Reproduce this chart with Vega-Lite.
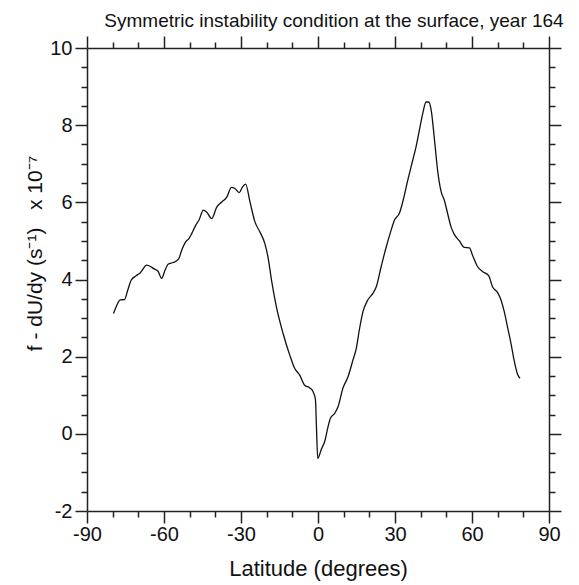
{
  "$schema": "https://vega.github.io/schema/vega-lite/v6.json",
  "width": 462,
  "height": 463,
  "autosize": "none",
  "padding": {"left": 87, "top": 48, "right": 30, "bottom": 74},
  "title": {
    "text": "Symmetric instability condition at the surface, year 164",
    "font": "Liberation Sans",
    "fontSize": 19,
    "fontWeight": "normal",
    "color": "#111",
    "anchor": "middle",
    "dx": 16,
    "offset": 4
  },
  "data": {
    "values": [
      {"lat": -79.7, "v": 3.12},
      {"lat": -78.7, "v": 3.28},
      {"lat": -77.1, "v": 3.47},
      {"lat": -75.4, "v": 3.48},
      {"lat": -74.1, "v": 3.73},
      {"lat": -72.8, "v": 3.98},
      {"lat": -71.0, "v": 4.09},
      {"lat": -69.3, "v": 4.17},
      {"lat": -66.7, "v": 4.37},
      {"lat": -63.7, "v": 4.27},
      {"lat": -62.4, "v": 4.22},
      {"lat": -60.9, "v": 4.03},
      {"lat": -59.6, "v": 4.24},
      {"lat": -58.3, "v": 4.40},
      {"lat": -56.4, "v": 4.44},
      {"lat": -54.4, "v": 4.52},
      {"lat": -53.1, "v": 4.76},
      {"lat": -51.5, "v": 4.98},
      {"lat": -50.3, "v": 5.06},
      {"lat": -49.2, "v": 5.19},
      {"lat": -47.6, "v": 5.41},
      {"lat": -46.3, "v": 5.55},
      {"lat": -44.7, "v": 5.80},
      {"lat": -43.4, "v": 5.75},
      {"lat": -41.4, "v": 5.58},
      {"lat": -39.5, "v": 5.87},
      {"lat": -37.5, "v": 6.01},
      {"lat": -35.6, "v": 6.13},
      {"lat": -33.7, "v": 6.39},
      {"lat": -32.4, "v": 6.36},
      {"lat": -30.7, "v": 6.25},
      {"lat": -29.5, "v": 6.39},
      {"lat": -28.2, "v": 6.47},
      {"lat": -26.5, "v": 6.01},
      {"lat": -24.6, "v": 5.50},
      {"lat": -22.7, "v": 5.24},
      {"lat": -20.7, "v": 4.93},
      {"lat": -19.4, "v": 4.55},
      {"lat": -18.1, "v": 3.98},
      {"lat": -16.2, "v": 3.29},
      {"lat": -13.6, "v": 2.60},
      {"lat": -11.0, "v": 2.04},
      {"lat": -9.1, "v": 1.70},
      {"lat": -7.1, "v": 1.52},
      {"lat": -5.2, "v": 1.26},
      {"lat": -3.2, "v": 1.19},
      {"lat": -1.9, "v": 1.09},
      {"lat": -1.0, "v": 0.89},
      {"lat": -0.6, "v": 0.18},
      {"lat": -0.1, "v": -0.64},
      {"lat": 1.3, "v": -0.40},
      {"lat": 2.6, "v": -0.20},
      {"lat": 3.9, "v": 0.18},
      {"lat": 4.8, "v": 0.40},
      {"lat": 6.5, "v": 0.53},
      {"lat": 7.8, "v": 0.70},
      {"lat": 9.7, "v": 1.18},
      {"lat": 11.7, "v": 1.48},
      {"lat": 13.6, "v": 1.91},
      {"lat": 14.9, "v": 2.21},
      {"lat": 16.2, "v": 2.73},
      {"lat": 17.5, "v": 3.16},
      {"lat": 19.4, "v": 3.47},
      {"lat": 21.4, "v": 3.64},
      {"lat": 22.7, "v": 3.81},
      {"lat": 24.6, "v": 4.33},
      {"lat": 26.6, "v": 4.85},
      {"lat": 28.5, "v": 5.28},
      {"lat": 29.8, "v": 5.54},
      {"lat": 31.8, "v": 5.73},
      {"lat": 33.2, "v": 6.06},
      {"lat": 35.0, "v": 6.58},
      {"lat": 36.9, "v": 7.09},
      {"lat": 38.2, "v": 7.44},
      {"lat": 39.5, "v": 7.87},
      {"lat": 40.8, "v": 8.30},
      {"lat": 42.1, "v": 8.60},
      {"lat": 43.1, "v": 8.60},
      {"lat": 44.1, "v": 8.39},
      {"lat": 45.4, "v": 7.61},
      {"lat": 46.6, "v": 6.83},
      {"lat": 48.0, "v": 6.27},
      {"lat": 49.2, "v": 6.06},
      {"lat": 50.5, "v": 5.71},
      {"lat": 51.8, "v": 5.37},
      {"lat": 53.1, "v": 5.17},
      {"lat": 55.1, "v": 5.00},
      {"lat": 57.0, "v": 4.83},
      {"lat": 59.0, "v": 4.82},
      {"lat": 60.2, "v": 4.63},
      {"lat": 62.2, "v": 4.33},
      {"lat": 64.1, "v": 4.21},
      {"lat": 66.5, "v": 4.10},
      {"lat": 68.0, "v": 3.81},
      {"lat": 70.0, "v": 3.66},
      {"lat": 71.3, "v": 3.47},
      {"lat": 72.6, "v": 3.16},
      {"lat": 73.8, "v": 2.78},
      {"lat": 75.2, "v": 2.34},
      {"lat": 76.4, "v": 1.91},
      {"lat": 77.7, "v": 1.55},
      {"lat": 78.7, "v": 1.44}
    ]
  },
  "layer": [
    {
      "mark": {"type": "line", "color": "#111", "strokeWidth": 1.3, "interpolate": "monotone"},
      "encoding": {
        "x": {
          "field": "lat", "type": "quantitative",
          "scale": {"domain": [-90, 90], "nice": false, "zero": false},
          "axis": {
            "orient": "bottom",
            "title": "Latitude (degrees)",
            "values": [-90, -60, -30, 0, 30, 60, 90],
            "labelExpr": "'' + datum.value",
            "labelOverlap": false,
            "labelFlush": false,
            "tickSize": 12,
            "labelPadding": 1,
            "titleY": 57,
            "titleBaseline": "middle",
            "titleFontSize": 22
          }
        },
        "y": {
          "field": "v", "type": "quantitative",
          "scale": {"domain": [-2, 10], "nice": false, "zero": false},
          "axis": {
            "orient": "left",
            "title": "f - dU/dy (s⁻¹)\u00a0\u00a0 x 10⁻⁷",
            "values": [-2, 0, 2, 4, 6, 8, 10],
            "labelExpr": "'' + datum.value",
            "labelOverlap": false,
            "labelFlush": false,
            "tickSize": 12,
            "labelPadding": 3,
            "titleX": -52,
            "titleY": 205,
            "titleAlign": "center",
            "titleBaseline": "middle",
            "titleFontSize": 21
          }
        }
      }
    },
    {
      "mark": {"type": "line", "opacity": 0},
      "encoding": {
        "x": {
          "field": "lat", "type": "quantitative",
          "axis": {
            "orient": "bottom", "title": null, "labels": false, "domain": false,
            "values": [-80, -70, -50, -40, -20, -10, 10, 20, 40, 50, 70, 80],
            "tickSize": 6
          }
        },
        "y": {
          "field": "v", "type": "quantitative",
          "axis": {
            "orient": "left", "title": null, "labels": false, "domain": false,
            "values": [-1.5, -1, -0.5, 0.5, 1, 1.5, 2.5, 3, 3.5, 4.5, 5, 5.5, 6.5, 7, 7.5, 8.5, 9, 9.5],
            "tickSize": 6
          }
        }
      }
    },
    {
      "mark": {"type": "line", "opacity": 0},
      "encoding": {
        "x": {
          "field": "lat", "type": "quantitative",
          "axis": {
            "orient": "top", "title": null, "labels": false,
            "values": [-90, -60, -30, 0, 30, 60, 90],
            "tickSize": 12
          }
        },
        "y": {
          "field": "v", "type": "quantitative",
          "axis": {
            "orient": "right", "title": null, "labels": false,
            "values": [-2, 0, 2, 4, 6, 8, 10],
            "tickSize": 12
          }
        }
      }
    },
    {
      "mark": {"type": "line", "opacity": 0},
      "encoding": {
        "x": {
          "field": "lat", "type": "quantitative",
          "axis": {
            "orient": "top", "title": null, "labels": false, "domain": false,
            "values": [-80, -70, -50, -40, -20, -10, 10, 20, 40, 50, 70, 80],
            "tickSize": 6
          }
        },
        "y": {
          "field": "v", "type": "quantitative",
          "axis": {
            "orient": "right", "title": null, "labels": false, "domain": false,
            "values": [-1.5, -1, -0.5, 0.5, 1, 1.5, 2.5, 3, 3.5, 4.5, 5, 5.5, 6.5, 7, 7.5, 8.5, 9, 9.5],
            "tickSize": 6
          }
        }
      }
    }
  ],
  "resolve": {"axis": {"x": "independent", "y": "independent"}},
  "config": {
    "view": {"stroke": null},
    "axis": {
      "grid": false,
      "domainColor": "#222",
      "domainWidth": 1.5,
      "tickColor": "#222",
      "tickWidth": 1.5,
      "labelFont": "Liberation Sans",
      "labelFontSize": 20,
      "labelColor": "#111",
      "titleFont": "Liberation Sans",
      "titleFontWeight": "normal",
      "titleColor": "#111"
    }
  }
}
